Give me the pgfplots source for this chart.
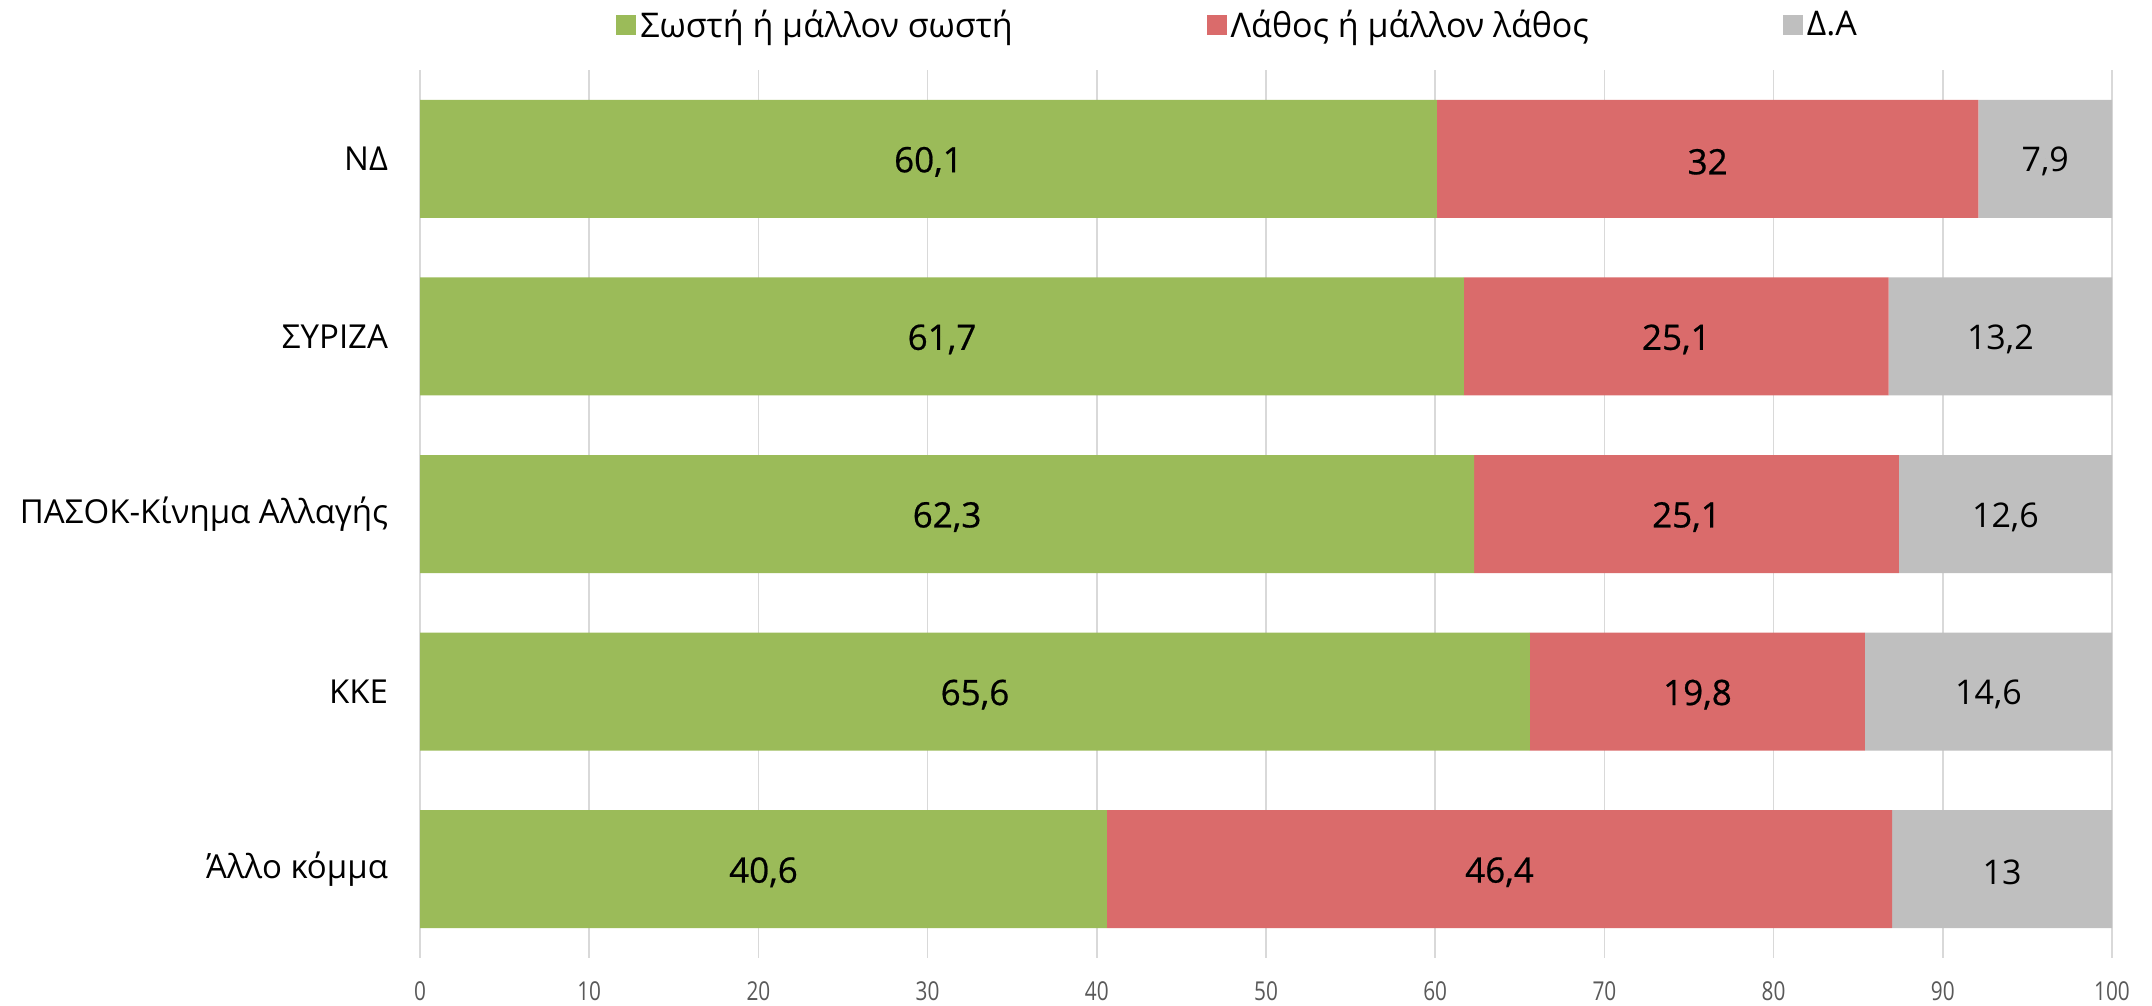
\documentclass[border=0pt]{standalone}
\usepackage{pgfplots}
\pgfplotsset{compat=1.18}
\usepackage{pgfplotstable}
\usepackage{fontspec}
\setmainfont{Open Sans}
\newfontfamily\tickfont[FakeStretch=0.8]{Open Sans}
\newfontfamily\semib[FakeBold=0.6]{Open Sans}
\definecolor{cgreen}{HTML}{9BBB59}
\definecolor{cred}{HTML}{DA6B6B}
\definecolor{cgrey}{HTML}{BFBFBF}
\definecolor{cgrid}{HTML}{D9D9D9}
\definecolor{ctick}{HTML}{595959}
\pgfplotsset{
  sqlegend/.style={legend image code/.code={\fill[##1] (0pt,-5pt) rectangle (10pt,5pt);}},
  base/.style={scale only axis, width=846pt, height=444pt, xmin=0, xmax=100,
    ymin=-0.5, ymax=4.5, y dir=reverse, at={(210pt,24pt)}, anchor=south west},
}
\pgfplotstableread{
y g r n
0 60.1 32 7.9
1 61.7 25.1 13.2
2 62.3 25.1 12.6
3 65.6 19.8 14.6
4 40.6 46.4 13
}\data
\pgfplotstableread{
x y lab
30.05 0 60,1
76.1 0 32
30.85 1 61,7
74.25 1 25,1
31.15 2 62,3
74.85 2 25,1
32.8 3 65,6
75.5 3 19,8
20.3 4 40,6
63.8 4 46,4
}\labA
\pgfplotstableread{
x y lab
96.05 0 7,9
93.4 1 13,2
93.7 2 12,6
92.7 3 14,6
93.5 4 13
}\labB
\begin{document}
\begin{tikzpicture}
\path[use as bounding box] (0pt,0pt) rectangle (1076pt,503pt);
\begin{axis}[base, xbar stacked, bar width=59pt,
  xtick={0,10,...,100}, ytick={0,1,2,3,4},
  yticklabels={ΝΔ, ΣΥΡΙΖΑ, ΠΑΣΟΚ-Κίνημα Αλλαγής, ΚΚΕ, Άλλο κόμμα},
  xmajorgrids, grid style={cgrid, line width=0.75pt},
  axis line style={draw=none}, major tick length=0pt,
  xticklabel style={font=\tickfont\fontsize{13pt}{15pt}\selectfont, text=ctick, yshift=-8.5pt},
  yticklabel style={font=\fontsize{16.5pt}{18pt}\selectfont, xshift=-12.5pt},
  /pgf/number format/assume math mode=true,
  legend style={at={(0.1158,1.0507)}, anchor=west, draw=none, fill=none, inner sep=0pt,
    font=\fontsize{17pt}{20pt}\selectfont, legend cell align=left,
    /tikz/every even column/.append style={column sep=95pt}},
  legend columns=3,
]
\addplot[fill=cgreen, draw=none, sqlegend] table[x=g, y=y]{\data};
\addlegendentry{Σωστή ή μάλλον σωστή}
\addplot[fill=cred, draw=none, sqlegend] table[x=r, y=y]{\data};
\addlegendentry{Λάθος ή μάλλον λάθος}
\addplot[fill=cgrey, draw=none, sqlegend] table[x=n, y=y]{\data};
\addlegendentry{Δ.Α}
\end{axis}
\begin{axis}[base, hide axis, clip=false]
\addplot[only marks, mark=*, mark size=0pt, mark options={draw=none, fill=none},
  nodes near coords, point meta=explicit symbolic,
  nodes near coords style={font=\semib\fontsize{17.5pt}{19pt}\selectfont, anchor=center, text=black, yshift=-1.5pt}]
  table[x=x, y=y, meta=lab]{\labA};
\addplot[only marks, mark=*, mark size=0pt, mark options={draw=none, fill=none},
  nodes near coords, point meta=explicit symbolic,
  nodes near coords style={font=\fontsize{17pt}{19pt}\selectfont, anchor=center, text=black, yshift=-1.5pt}]
  table[x=x, y=y, meta=lab]{\labB};
\end{axis}
\end{tikzpicture}
\end{document}
